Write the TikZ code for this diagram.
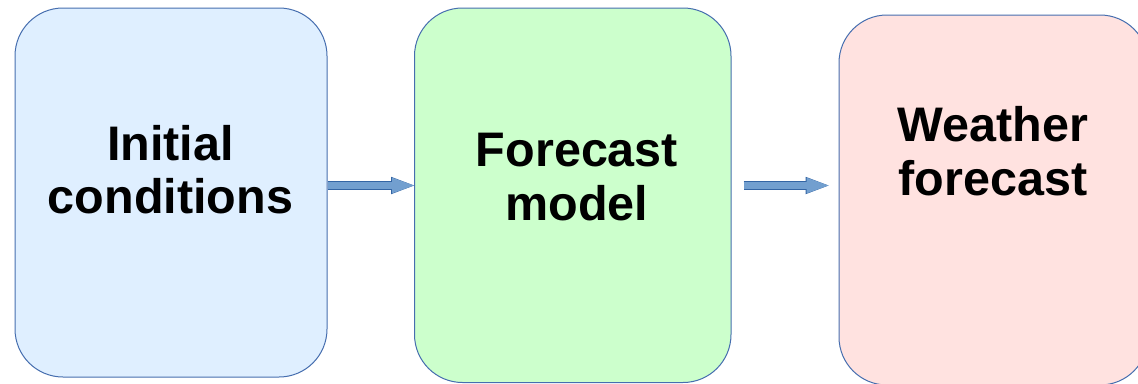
\documentclass[tikz,border=0pt]{standalone}
\usepackage{fontspec}
\setmainfont{Liberation Sans}
\usetikzlibrary{arrows.meta}
\definecolor{initfill}{RGB}{223,239,255}
\definecolor{modelfill}{RGB}{204,255,204}
\definecolor{fcstfill}{RGB}{255,226,224}
\definecolor{boxedge}{RGB}{70,110,175}
\definecolor{arrowfill}{RGB}{114,159,207}
\definecolor{arrowedge}{RGB}{52,101,164}

\begin{document}
\begin{tikzpicture}[x=1pt, y=-1pt,
    stage/.style={draw=boxedge, line width=1pt, rounded corners=48pt, inner sep=0pt},
    lbl/.style={font=\fontsize{48.5}{53.5}\selectfont\bfseries, align=center, inner sep=0pt},
    flow/.style={draw=arrowfill, line width=7.6pt, shorten >=#1,
      -{Triangle[length=21.8pt,width=15.6pt,line width=0pt]},
      preaction={draw=arrowedge, line width=9.2pt, shorten >=#1,
        -{Triangle[length=23pt,width=17.5pt,line width=0pt]}}},
    flow/.default=0pt]

  \useasboundingbox (0,0) rectangle (1138,383);

  % Boxes
  \node[stage, fill=initfill, minimum width=312pt, minimum height=369pt] (init) at (171,192.5) {};
  \node[stage, fill=modelfill, minimum width=316.5pt, minimum height=374.5pt] (model) at (572.75,195.25) {};
  \node[stage, fill=fcstfill, minimum width=309pt, minimum height=370pt] (fcst) at (993.5,200) {};

  % Box texts
  \node[lbl] (init-lbl) at (170.5,169.5) {Initial\\conditions};
  \node[lbl] (model-lbl) at (577,177) {Forecast\\model};
  \node[lbl] (fcst-lbl) at (993,151) {Weather\\forecast};

  % Arrows
  \coordinate (lvl) at (0,185.5);
  \draw[flow] (init.east |- lvl) -- (model.west |- lvl);
  \draw[flow=10pt, shorten <=12pt] (model.east |- lvl) -- (fcst.west |- lvl);

\end{tikzpicture}
\end{document}
